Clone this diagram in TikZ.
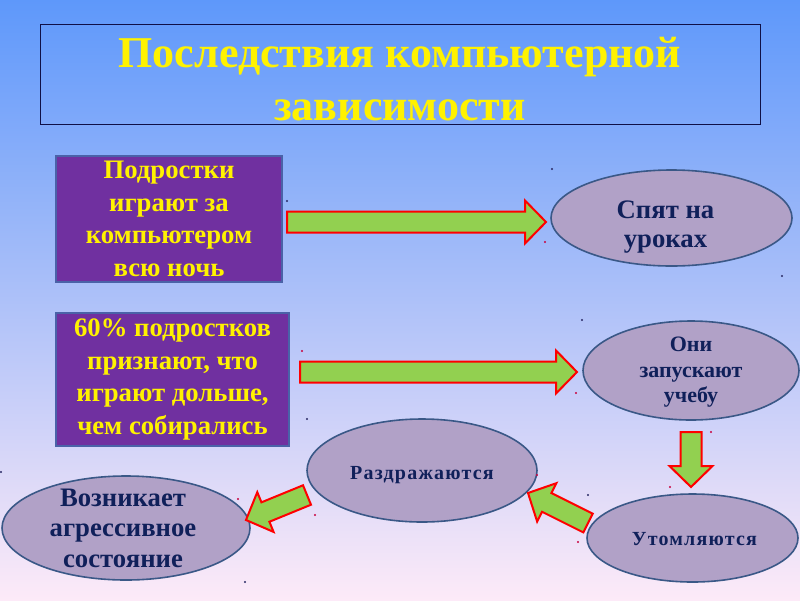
\documentclass[tikz,border=0pt]{standalone}
\usepackage{fontspec}
\setmainfont{Liberation Serif}
\usetikzlibrary{shapes.geometric, calc}

\definecolor{skytop}{RGB}{94,152,250}
\definecolor{skymid}{RGB}{176,196,250}
\definecolor{skybot}{RGB}{253,234,248}
\definecolor{titleedge}{RGB}{16,16,70}
\definecolor{boxpurple}{RGB}{112,48,160}
\definecolor{boxedge}{RGB}{74,98,168}
\definecolor{ovalfill}{RGB}{177,161,199}
\definecolor{ovaledge}{RGB}{58,88,135}
\definecolor{ovalink}{RGB}{16,32,90}
\definecolor{arrowgreen}{RGB}{146,208,80}
\definecolor{dotred}{RGB}{200,0,60}
\definecolor{dotblue}{RGB}{40,40,100}

\newcommand\bigfont{\fontsize{26.7}{32.5}\selectfont\bfseries}
\newcommand\spaced{\fontsize{20}{24}\selectfont\bfseries\addfontfeature{LetterSpace=6}}

\tikzset{
  titletext/.style={text=yellow, align=center, font=\fontsize{44}{53}\selectfont\bfseries},
  reason/.style={draw=boxedge, line width=1.5pt, fill=boxpurple, text=yellow, align=center, inner sep=2pt, font=\bigfont},
  effect/.style={ellipse, draw=ovaledge, line width=1.6pt, fill=ovalfill, inner sep=0pt},
  ovaltext/.style={text=ovalink, align=center, font=\fontsize{26.7}{29}\selectfont\bfseries},
  bigarrow/.style={draw=red, line width=2pt, fill=arrowgreen, line join=miter}
}

% fat block arrow from #1 to #2
\newcommand\fatarrow[2]{%
  \coordinate (neck) at ($(#2)!21pt!(#1)$);
  \filldraw[bigarrow] ($(#1)!10.5pt!90:(#2)$) -- ($(neck)!10.5pt!90:(#2)$) -- ($(neck)!21.5pt!90:(#2)$)
    -- (#2) -- ($(neck)!21.5pt!-90:(#2)$) -- ($(neck)!10.5pt!-90:(#2)$) -- ($(#1)!10.5pt!-90:(#2)$) -- cycle;}

\begin{document}
\begin{tikzpicture}[x=1pt, y=-1pt]
\useasboundingbox (0,0) rectangle (800,600);
\shade[top color=skytop, middle color=skymid, bottom color=skybot] (0,0) rectangle (800,600);

\node[draw=titleedge, line width=0.8pt, minimum width=720pt, minimum height=100pt, inner sep=0pt,
  label={[titletext, yshift=-5pt]center:{Последствия компьютерной\\зависимости}}] (title) at (400,74) {};

\node[reason, minimum width=226pt, minimum height=126pt] (night) at (169,219) {Подростки\\играют за\\компьютером\\всю ночь};
\node[reason, minimum width=233pt, minimum height=133pt] (longer) at (172.5,379.5) {60\% подростков\\признают, что\\играют дольше,\\чем собирались};

\node[effect, minimum width=241pt, minimum height=96pt,
  label={[ovaltext, xshift=-6pt, yshift=-9pt]center:{Спят на\\уроках}}] (sleep) at (671.5,218) {};
\node[effect, minimum width=216pt, minimum height=99pt,
  label={[ovaltext, yshift=-2pt, font=\fontsize{22}{25.5}\selectfont\bfseries]center:{Они\\запускают\\учебу}}] (skip) at (691,370.5) {};
\node[effect, minimum width=211pt, minimum height=88pt,
  label={[ovaltext, xshift=2pt, yshift=-1pt, font=\spaced]center:Утомляются}] (tired) at (692.5,538) {};
\node[effect, minimum width=230pt, minimum height=103pt,
  label={[ovaltext, yshift=-5pt, font=\spaced]center:Раздражаются}] (angry) at (422,470.5) {};
\node[effect, minimum width=248pt, minimum height=104pt,
  label={[ovaltext, xshift=-3pt, font=\fontsize{26.7}{30.5}\selectfont\bfseries]center:{Возникает\\агрессивное\\состояние}}] (aggro) at (126,528) {};

\coordinate (a1) at (287,222);
\coordinate (b1) at (546,222);
\coordinate (a2) at (300,372);
\coordinate (b2) at (577,372);
\coordinate (a3) at (691,432);
\coordinate (b3) at (691,487);
\coordinate (a4) at (588,523);
\coordinate (b4) at (528,493);
\coordinate (a5) at (307,495);
\coordinate (b5) at (246,520);
\fatarrow{a1}{b1}
\fatarrow{a2}{b2}
\fatarrow{a3}{b3}
\fatarrow{a4}{b4}
\fatarrow{a5}{b5}

% specks
\foreach \px/\py/\c in {287/201/dotblue, 552/169/dotblue, 545/242/dotred, 782/276/dotblue, 582/320/dotblue,
  576/393/dotred, 302/351/dotred, 307/419/dotblue, 238/499/dotred, 315/515/dotred, 245/582/dotblue,
  537/475/dotred, 588/495/dotblue, 578/542/dotred, 711/432/dotred, 670/487/dotred, 1/472/dotblue}
  \fill[\c] (\px,\py) circle (1.2pt);
\end{tikzpicture}
\end{document}
